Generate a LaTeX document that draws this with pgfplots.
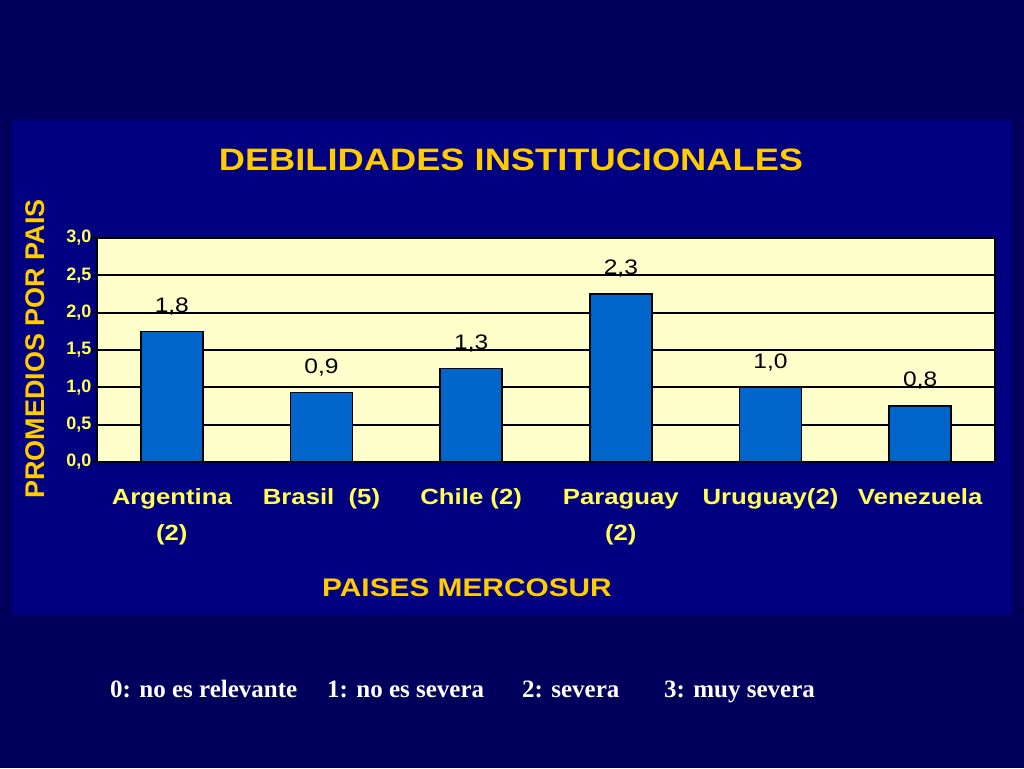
\documentclass[border=0pt]{standalone}
\usepackage{pgfplots}
\pgfplotsset{compat=1.18}
\usepackage{fontspec}
\setmainfont[FakeStretch=1.17]{Liberation Sans}
\newfontfamily\plainsans{Liberation Sans}
\newfontfamily\serifb{Liberation Serif}
\definecolor{outerbg}{HTML}{00005C}
\definecolor{chartbg}{HTML}{000080}
\definecolor{plotbg}{HTML}{FFFFCC}
\definecolor{barblue}{HTML}{0066CC}
\definecolor{gold}{HTML}{FFCC00}
\definecolor{paleyellow}{HTML}{FFFF55}

\begin{document}
\begin{tikzpicture}
\fill[outerbg] (0pt,0pt) rectangle (1024pt,768pt);
\fill[chartbg] (12pt,153pt) rectangle (1012pt,648pt);
\begin{axis}[
    at={(97pt,306pt)}, anchor=south west,
    scale only axis, width=898pt, height=224pt,
    axis background/.style={fill=plotbg},
    axis line style={black, line width=1.8pt},
    xmin=-0.5, xmax=5.5, ymin=0, ymax=3,
    ytick={0,0.5,...,3},
    ymajorgrids, grid style={black, line width=1.8pt},
    major tick length=6pt,
    tick style={black, line width=1.5pt},
    ytick pos=left, tick align=outside,
    xtick={0,...,5},
    xticklabels={\strut Argentina\\(2), \strut Brasil\ \ (5), \strut Chile (2), \strut Paraguay\\(2), \strut Uruguay(2), \strut Venezuela},
    x tick style={draw=none},
    minor xtick={-0.5,0.5,...,5.5},
    minor x tick style={black, line width=1.5pt},
    minor tick length=6pt,
    xtick pos=bottom,
    xticklabel style={align=center, text=paleyellow, font=\bfseries\fontsize{22}{36}\selectfont, anchor=north, yshift=-8pt},
    yticklabel style={text=paleyellow, font=\plainsans\bfseries\fontsize{18}{20}\selectfont, xshift=4pt},
    /pgf/number format/.cd, fixed, fixed zerofill, precision=1, use comma, assume math mode=true,
    /pgfplots/.cd,
    ybar, bar width=0.414,
    nodes near coords, point meta=explicit symbolic,
    nodes near coords style={black, font=\fontsize{21}{23}\selectfont, anchor=center, yshift=25pt},
]
\addplot[fill=barblue, draw=black, line width=1.4pt] coordinates {
    (0,1.75) [1,8]
    (1,0.93) [0,9]
    (2,1.25) [1,3]
    (3,2.25) [2,3]
    (4,1.00) [1,0]
    (5,0.75) [0,8]
};
\end{axis}
\node[text=gold, font=\bfseries\fontsize{31}{36}\selectfont] at (511pt,608pt) {DEBILIDADES INSTITUCIONALES};
\node[text=gold, font=\bfseries\fontsize{25.5}{30}\selectfont] at (467pt,180pt) {PAISES MERCOSUR};
\node[text=gold, font=\plainsans\bfseries\fontsize{27}{30}\selectfont, rotate=90] at (35pt,419pt) {PROMEDIOS POR PAIS};
\begin{scope}[every node/.style={text=white, anchor=base west, inner sep=0pt, font=\serifb\bfseries\fontsize{25}{27}\selectfont}]
\node at (110pt,71pt) {0: no es relevante};
\node at (327pt,71pt) {1: no es severa};
\node at (522pt,71pt) {2: severa};
\node at (664pt,71pt) {3: muy severa};
\end{scope}
\end{tikzpicture}
\end{document}
